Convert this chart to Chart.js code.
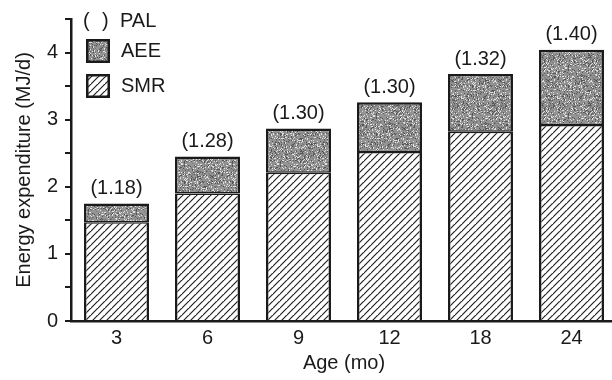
<!DOCTYPE html>
<html>
<head>
<meta charset="utf-8">
<script src="https://cdn.jsdelivr.net/npm/chart.js@4/dist/chart.umd.min.js"></script>
<style>
  html, body { margin: 0; padding: 0; background: #fff; overflow: hidden; }
  #wrap { width: 620px; height: 380px; position: relative; }
</style>
</head>
<body>
<div id="wrap"><canvas id="chart"></canvas></div>
<script>
// values
const ages = ['3', '6', '9', '12', '18', '24'];
const smrValues = [1.47, 1.90, 2.21, 2.52, 2.82, 2.92]; // MJ/d
const aeeValues = [0.28, 0.55, 0.66, 0.74, 0.86, 1.12]; // MJ/d
const palValues = [1.18, 1.28, 1.30, 1.30, 1.32, 1.40];

const INK = '#1a1a1a';
const FONT = '"Liberation Sans", Arial, Helvetica, sans-serif';
const SIZE = 20;

// diagonal hatch for SMR
function hatchPattern() {
  const size = 7;
  const c = document.createElement('canvas');
  c.width = size; c.height = size;
  const g = c.getContext('2d');
  g.fillStyle = '#fff';
  g.fillRect(0, 0, size, size);
  g.strokeStyle = '#222';
  g.lineWidth = 1.2;
  g.beginPath();
  g.moveTo(-1, size + 1); g.lineTo(size + 1, -1);
  g.moveTo(-size - 1, size + 1); g.lineTo(1, -1);
  g.moveTo(size - 1, 2 * size + 1); g.lineTo(2 * size + 1, size - 1);
  g.stroke();
  return g.createPattern(c, 'repeat');
}

// grey stipple for AEE (fixed speckle, texture only)
function stipplePattern() {
  const size = 48;
  const c = document.createElement('canvas');
  c.width = size; c.height = size;
  const g = c.getContext('2d');
  const img = g.createImageData(size, size);
  let s = 98765;
  const next = () => { s = (s * 1103515245 + 12345) & 0x7fffffff; return s / 0x7fffffff; };
  for (let i = 0; i < size * size; i++) {
    const r = next();
    let v = 148;
    if (r < 0.13) v = 85;
    else if (r < 0.27) v = 225;
    else if (r < 0.42) v = 122;
    img.data[i * 4] = v; img.data[i * 4 + 1] = v; img.data[i * 4 + 2] = v; img.data[i * 4 + 3] = 255;
  }
  g.putImageData(img, 0, 0);
  return g.createPattern(c, 'repeat');
}

const smrFill = hatchPattern();
const aeeFill = stipplePattern();

// PAL numbers above each bar
const palLabels = {
  id: 'palLabels',
  afterDatasetsDraw(chart) {
    const ctx = chart.ctx;
    const meta = chart.getDatasetMeta(1);
    ctx.save();
    ctx.fillStyle = INK;
    ctx.font = SIZE + 'px ' + FONT;
    ctx.textAlign = 'center';
    ctx.textBaseline = 'middle';
    meta.data.forEach((bar, i) => {
      ctx.fillText('(' + palValues[i].toFixed(2) + ')', bar.x, bar.y - 15);
    });
    ctx.restore();
  }
};

// legend in the upper-left corner of the plot
const cornerLegend = {
  id: 'cornerLegend',
  afterDraw(chart) {
    const ctx = chart.ctx;
    const sets = chart.data.datasets;
    ctx.save();
    ctx.fillStyle = INK;
    ctx.font = SIZE + 'px ' + FONT;
    ctx.textBaseline = 'middle';
    ctx.textAlign = 'left';
    ctx.fillText('(', 83, 21);
    ctx.fillText(')', 102, 21);
    ctx.fillText('PAL', 120, 21);
    const rows = [{ ds: sets[1], y: 39 }, { ds: sets[0], y: 74 }];
    rows.forEach(r => {
      ctx.fillStyle = INK;
      ctx.fillRect(86, r.y, 24, 24);
      ctx.fillStyle = r.ds.backgroundColor;
      ctx.fillRect(88.5, r.y + 2.5, 19, 19);
      ctx.fillStyle = INK;
      ctx.fillText(r.ds.label, 121, r.y + 12);
    });
    ctx.restore();
  }
};

new Chart(document.getElementById('chart'), {
  type: 'bar',
  data: {
    labels: ages,
    datasets: [
      {
        label: 'SMR',
        data: smrValues,
        backgroundColor: smrFill,
        borderColor: INK,
        borderWidth: { left: 2.5, right: 2.5, top: 1.5, bottom: 0 },
        borderSkipped: false,
      },
      {
        label: 'AEE',
        data: aeeValues,
        backgroundColor: aeeFill,
        borderColor: INK,
        borderWidth: { left: 2.5, right: 2.5, top: 2.5, bottom: 1.5 },
        borderSkipped: false,
      },
    ],
  },
  options: {
    responsive: true,
    maintainAspectRatio: false,
    animation: false,
    layout: { padding: { top: 12, right: 3, bottom: 0, left: 0 } },
    datasets: { bar: { categoryPercentage: 1, barPercentage: 0.714 } },
    plugins: { legend: { display: false }, tooltip: { enabled: false } },
    scales: {
      x: {
        stacked: true,
        grid: { display: true, drawOnChartArea: false, drawTicks: false },
        border: { display: true, color: INK, width: 2.5 },
        ticks: { color: INK, font: { family: FONT, size: SIZE }, padding: 5 },
        title: { display: true, text: 'Age (mo)', color: INK, font: { family: FONT, size: SIZE }, padding: { top: 0, bottom: 5 } },
        afterFit(scale) { scale.height = 59; },
      },
      y: {
        stacked: true,
        min: 0,
        max: 4.5,
        grid: { drawOnChartArea: false, drawTicks: true, tickLength: 6, color: INK, lineWidth: 2 },
        border: { display: true, color: INK, width: 2.5 },
        ticks: {
          stepSize: 0.5,
          color: INK,
          padding: 7,
          font: { family: FONT, size: SIZE },
          callback: v => Number.isInteger(v) ? v : '',
        },
        title: { display: true, text: 'Energy expenditure (MJ/d)', color: INK, font: { family: FONT, size: SIZE }, padding: { top: 12, bottom: 0 } },
        afterFit(scale) { scale.width = 71; },
      },
    },
  },
  plugins: [palLabels, cornerLegend],
});
</script>
</body>
</html>
